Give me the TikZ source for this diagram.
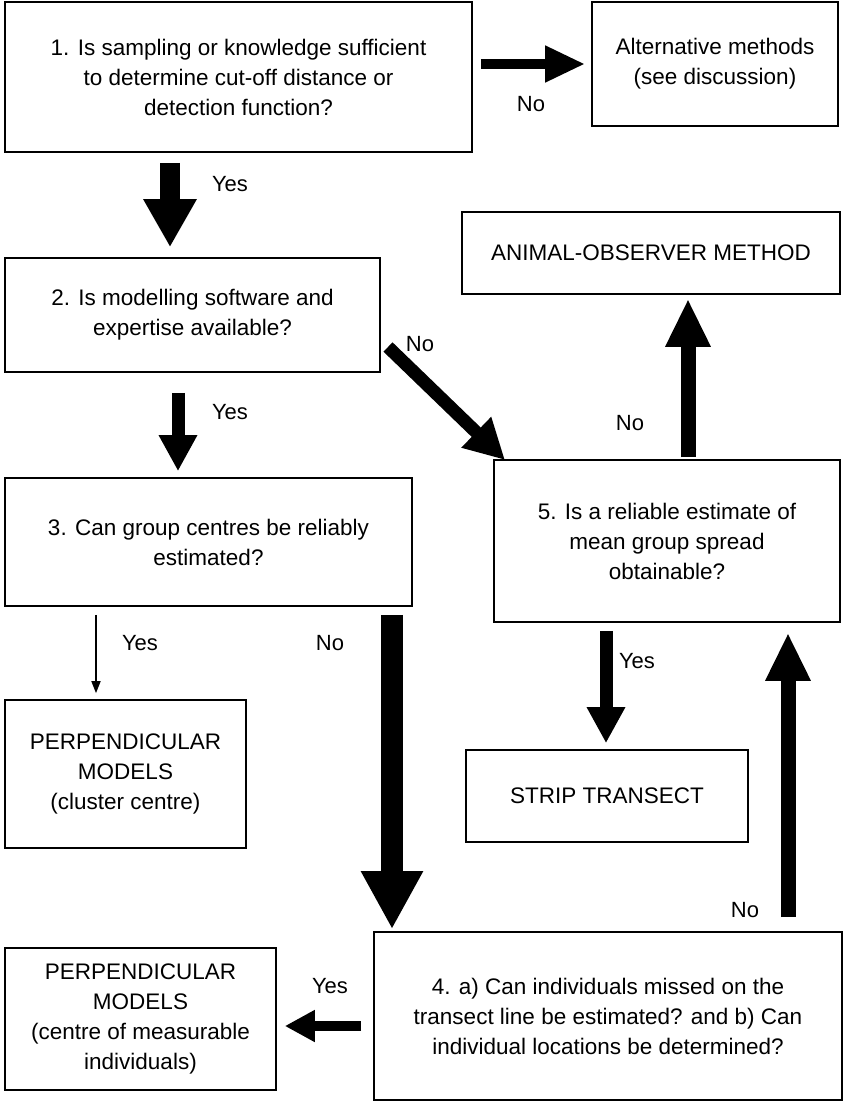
\documentclass[tikz,border=0pt]{standalone}
\usepackage{fontspec}
\setmainfont{Liberation Sans}
\usetikzlibrary{arrows.meta}
\begin{document}
\begin{tikzpicture}[x=1pt,y=-1pt,
  box/.style={draw,line width=1.6pt,align=center,inner sep=0pt,font=\fontsize{22.5}{30}\selectfont},
  lab/.style={font=\fontsize{22}{26}\selectfont},
  big/.style={line width=22pt,-{Triangle[length=58pt,width=58pt]}},
  mid/.style={line width=13pt,-{Triangle[length=36pt,width=36pt]}},
  thin/.style={line width=1.6pt,-{Triangle[length=12pt,width=9pt]}}]
\useasboundingbox (0,0) rectangle (850,1108);
\node[box,minimum width=467pt,minimum height=150pt] (n1) at (238.5,77) {1. Is sampling or knowledge sufficient\\to determine cut-off distance or\\detection function?};
\node[box,minimum width=246pt,minimum height=124pt] (alt) at (715,64) {Alternative methods\\(see discussion)};
\node[box,minimum width=378pt,minimum height=82pt] (ani) at (651,253) {ANIMAL-OBSERVER METHOD};
\node[box,minimum width=375pt,minimum height=114pt] (n2) at (192.5,315) {2. Is modelling software and\\expertise available?};
\node[box,minimum width=407pt,minimum height=128pt] (n3) at (208.5,542) {3. Can group centres be reliably\\estimated?};
\node[box,minimum width=346pt,minimum height=162pt] (n5) at (667,541) {5. Is a reliable estimate of\\mean group spread\\obtainable?};
\node[box,minimum width=241pt,minimum height=148pt] (pc) at (125.5,774) {PERPENDICULAR\\MODELS\\(cluster centre)};
\node[box,minimum width=282pt,minimum height=92pt] (st) at (607,796) {STRIP TRANSECT};
\node[box,minimum width=271pt,minimum height=142pt] (pm) at (140.5,1019) {PERPENDICULAR\\MODELS\\(centre of measurable\\individuals)};
\node[box,minimum width=468pt,minimum height=168pt] (n4) at (608,1016) {4. a) Can individuals missed on the\\transect line be estimated? and b) Can\\individual locations be determined?};
\coordinate (x170) at (170,0); \coordinate (x178) at (178,0); \coordinate (x96) at (96,0);
\coordinate (x392) at (392,0); \coordinate (x606) at (606,0); \coordinate (x788) at (788,0);
\coordinate (x688) at (688,0); \coordinate (y1026) at (0,1026); \coordinate (y64) at (0,64);
\draw[line width=10pt,-{Triangle[length=40pt,width=34pt]},shorten <=8pt,shorten >=6pt] (n1.east |- y64) -- (alt.west |- y64);
\node[lab] (l1) at (531,104) {No};
\draw[line width=20pt,-{Triangle[length=48pt,width=50pt]},shorten <=10pt,shorten >=10pt] (n1.south -| x170) -- (n2.north -| x170);
\node[lab] (l2) at (230,184) {Yes};
\draw[mid,shorten <=20pt,shorten >=6pt] (n2.south -| x178) -- (n3.north -| x178);
\node[lab] (l3) at (230,412) {Yes};
\coordinate (d1) at (388,347); \coordinate (d2) at (505,460);
\draw[line width=13pt,-{Triangle[length=40pt,width=40pt]}] (d1) -- (d2);
\node[lab] (l4) at (420,344) {No};
\draw[thin,shorten <=8pt,shorten >=6pt] (n3.south -| x96) -- (pc.north -| x96);
\node[lab] (l5) at (140,643) {Yes};
\draw[big,shorten <=8pt,shorten >=2pt] (n3.south -| x392) -- (n4.north -| x392);
\node[lab] (l6) at (330,643) {No};
\draw[mid,shorten <=8pt,shorten >=6pt] (n5.south -| x606) -- (st.north -| x606);
\node[lab] (l7) at (637,661) {Yes};
\draw[line width=15pt,-{Triangle[length=48pt,width=42pt]},shorten <=14pt,shorten >=10pt] (n4.north -| x788) -- (n5.south -| x788);
\node[lab] (l8) at (745,910) {No};
\draw[line width=15pt,-{Triangle[length=48pt,width=42pt]},shorten <=2pt,shorten >=4pt] (n5.north -| x688) -- (ani.south -| x688);
\node[lab] (l9) at (630,423) {No};
\draw[line width=10pt,-{Triangle[length=30pt,width=30pt]},shorten <=12pt,shorten >=8pt] (n4.west |- y1026) -- (pm.east |- y1026);
\node[lab] (l10) at (330,986) {Yes};
\end{tikzpicture}
\end{document}
